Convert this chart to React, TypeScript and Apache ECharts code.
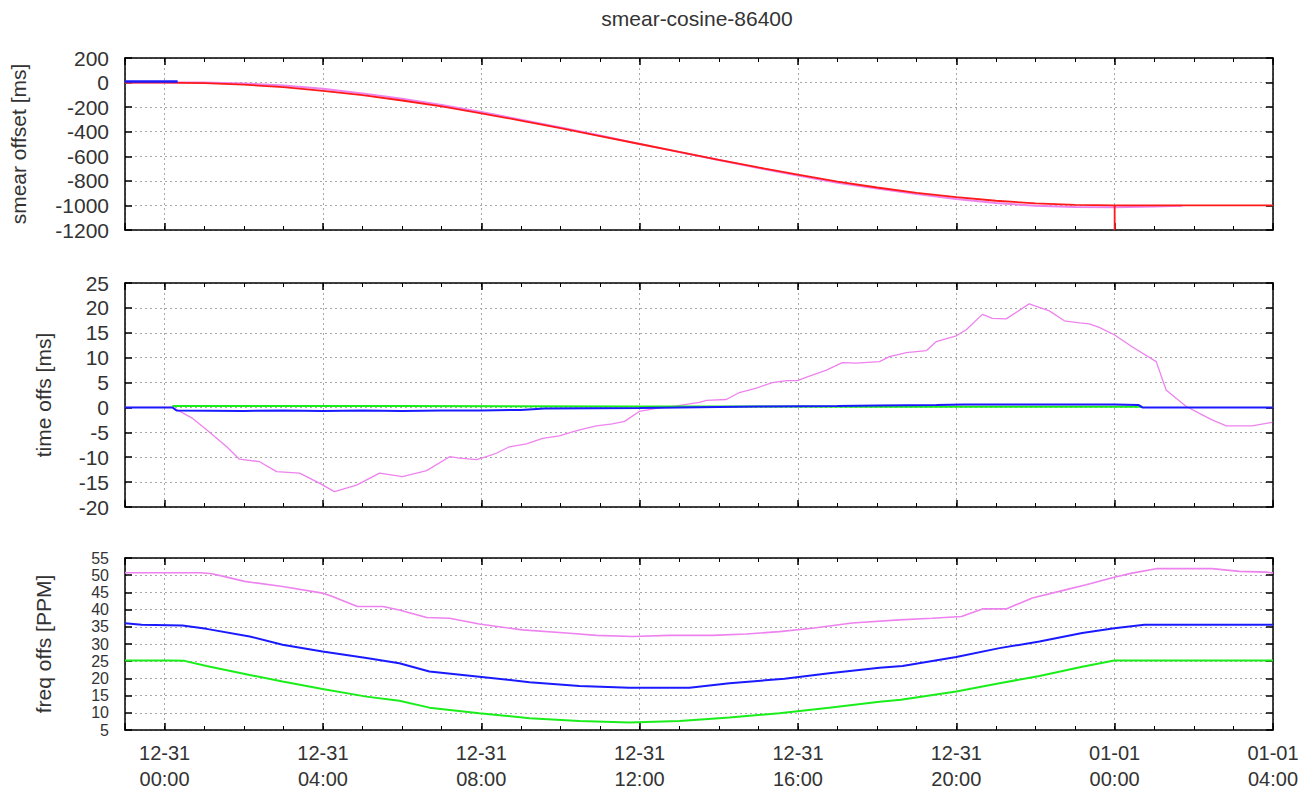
import React, { useEffect, useRef } from 'react';
import * as echarts from 'echarts';

const TITLE = 'smear-cosine-86400';
const PANEL_NAMES = ['smear offset [ms]', 'time offs [ms]', 'freq offs [PPM]'];
const Y_MIN = [-1200, -20, 5];
const Y_MAX = [200, 25, 55];
const Y_STEP = [200, 5, 5];
const X_MIN_HOUR = -1;
const X_MAX_HOUR = 28;
const X_LABEL_HOURS = [0, 4, 8, 12, 16, 20, 24, 28];
const X_LABEL_TEXTS = [
  '12-31\n00:00', '12-31\n04:00', '12-31\n08:00', '12-31\n12:00',
  '12-31\n16:00', '12-31\n20:00', '01-01\n00:00', '01-01\n04:00',
];

// panel 1: smear offset [ms]  (x = hours since 12-31 00:00)
const smearRed: number[][] = [
  [-1, 0], [0, 0], [1, -4], [2, -17], [3, -37], [4, -67], [5, -103], [6, -146], [7, -194],
  [8, -250], [9, -309], [10, -371], [11, -435], [12, -500], [13, -565], [14, -629], [15, -691],
  [16, -750], [17, -806], [18, -854], [19, -897], [20, -933], [21, -962], [22, -983], [23, -996],
  [24, -1000], [24, -1200], [24, -1000], [28, -1000],
];
const smearViolet: number[][] = [
  [-1, 0], [0, 0], [1, 0], [2, -7], [3, -24], [4, -51], [5, -88], [6, -132], [7, -182],
  [8, -240], [9, -302], [10, -365], [11, -431], [12, -499], [13, -566], [14, -631], [15, -695],
  [16, -756], [17, -815], [18, -863], [19, -908], [20, -947], [21, -980], [22, -1003], [23, -1013],
  [24, -1015], [25, -1009], [25.7, -1002],
];
const smearBlue: number[][] = [[-1, 8], [0.33, 8]];

// panel 2: time offs [ms]
const timeViolet: number[][] = [
  [-1, 0], [0, 0], [0.2, 0], [0.71, -2.2], [1.06, -4.5], [1.57, -7.9], [1.89, -10.4], [2.4, -10.9],
  [2.83, -12.9], [3.41, -13.2], [3.91, -15.2], [4.29, -16.9], [4.85, -15.6], [5.43, -13.2],
  [6.01, -13.9], [6.62, -12.7], [7.2, -9.9], [7.45, -10.2], [7.88, -10.5], [8.13, -9.9],
  [8.38, -9.2], [8.71, -7.9], [9.14, -7.3], [9.55, -6.2], [9.97, -5.7], [10.48, -4.5],
  [10.91, -3.7], [11.31, -3.3], [11.62, -2.8], [11.99, -0.8], [12.42, -0.2], [12.93, 0.3],
  [13.51, 1.0], [13.69, 1.4], [14.19, 1.6], [14.52, 3.0], [14.95, 3.9], [15.35, 5.0],
  [15.71, 5.4], [15.98, 5.4], [16.36, 6.5], [16.72, 7.5], [17.12, 9.0], [17.47, 8.9],
  [18.06, 9.2], [18.31, 10.2], [18.74, 11.0], [19.24, 11.4], [19.49, 13.2], [20.0, 14.4],
  [20.25, 15.6], [20.66, 18.7], [20.91, 17.9], [21.26, 17.8], [21.84, 20.8], [22.35, 19.4],
  [22.73, 17.4], [23.11, 17.0], [23.36, 16.8], [23.61, 16.1], [23.99, 14.6], [24.44, 12.2],
  [25.05, 9.2], [25.3, 3.5], [25.56, 1.8], [25.81, 0.2], [26.14, -1.2], [26.46, -2.5],
  [26.82, -3.7], [27.47, -3.7], [27.98, -3.0],
];
const timeGreen: number[][] = [
  [0.2, 0.3], [6, 0.3], [12, 0.2], [18, 0.15], [24.7, 0.15],
];
const timeBlue: number[][] = [
  [-1, 0], [0.2, 0], [0.3, -0.6], [2, -0.7], [3, -0.6], [4, -0.7], [5, -0.6], [6, -0.7],
  [7, -0.6], [8, -0.6], [9, -0.5], [9.6, -0.2], [12, -0.1], [13, 0], [14, 0.1], [15, 0.2],
  [17, 0.3], [18, 0.4], [19.5, 0.5], [20.2, 0.6], [22, 0.6], [24, 0.6], [24.6, 0.5],
  [24.7, 0], [28, 0],
];

// panel 3: freq offs [PPM]
const freqViolet: number[][] = [
  [-1, 50.7], [0.93, 50.7], [1.19, 50.4], [1.44, 49.8], [2.02, 48.2], [2.98, 46.7], [3.99, 44.8],
  [4.24, 43.8], [4.87, 40.9], [5.51, 40.9], [5.93, 39.9], [6.62, 37.7], [7.2, 37.5],
  [7.95, 35.8], [9.04, 34.1], [10.15, 33.2], [10.91, 32.5], [11.82, 32.2], [12.75, 32.5],
  [13.84, 32.5], [14.7, 32.9], [15.53, 33.6], [16.36, 34.6], [17.37, 36.1], [18.56, 37.0],
  [19.39, 37.5], [20.13, 38.0], [20.66, 40.2], [21.26, 40.2], [21.92, 43.4], [22.6, 45.3],
  [23.28, 47.2], [23.99, 49.4], [24.44, 50.6], [25.05, 51.9], [26.46, 51.9], [27.15, 51.1],
  [27.83, 50.9], [28, 50.6],
];
const freqBlue: number[][] = [
  [-1, 36.0], [-0.58, 35.6], [0.45, 35.4], [1.06, 34.4], [2.15, 32.2], [2.98, 29.8],
  [3.99, 27.8], [5.1, 25.9], [5.93, 24.4], [6.69, 22.0], [7.95, 20.5], [9.22, 18.9],
  [10.48, 17.8], [11.74, 17.3], [13.26, 17.3], [14.27, 18.6], [15.66, 19.9], [16.79, 21.5],
  [18.06, 23.1], [18.64, 23.6], [20.0, 26.2], [21.09, 28.8], [22.1, 30.7], [23.18, 33.2],
  [23.99, 34.6], [24.75, 35.6], [28, 35.6],
];
const freqGreen: number[][] = [
  [-1, 25.2], [0.13, 25.2], [0.5, 25.1], [1.06, 23.6], [2.15, 21.0], [2.98, 19.1], [3.99, 16.9],
  [5.1, 14.7], [5.93, 13.5], [6.69, 11.5], [7.95, 9.9], [9.22, 8.4], [10.48, 7.6], [11.74, 7.2],
  [13.01, 7.6], [14.27, 8.6], [15.53, 9.9], [16.79, 11.5], [18.06, 13.2], [18.6, 13.8],
  [20.0, 16.2], [21.09, 18.6], [22.1, 20.7], [23.18, 23.4], [23.99, 25.2], [28, 25.2],
];

const FONT = '"Liberation Sans", Arial, sans-serif';
const TEXT_COLOR = '#333333';
const RED = '#ff1a1a';
const BLUE = '#1a1aff';
const GREEN = '#1aee1a';
const VIOLET = '#ee82ee';

const GRID_TOPS = [58, 283, 558];
const GRID_HEIGHTS = [172, 224, 172];
const NAME_GAPS = [96, 71, 71];
const Y_LABEL_SIZES = [21, 21, 16];

function xLabel(v: number): string {
  const h = Math.round(-v);
  const i = X_LABEL_HOURS.indexOf(h);
  return i >= 0 ? X_LABEL_TEXTS[i] : '';
}

function buildOption() {
  const grids: any[] = [];
  const xAxes: any[] = [];
  const yAxes: any[] = [];
  const border = { show: true, onZero: false, lineStyle: { color: '#000', width: 1.5 } };
  const dotted = { show: true, lineStyle: { color: '#a8a8a8', width: 1, type: [2, 3] } };
  for (let g = 0; g < 3; g++) {
    grids.push({ left: 125, right: 43, top: GRID_TOPS[g], height: GRID_HEIGHTS[g] });
    for (const pos of ['bottom', 'top']) {
      xAxes.push({
        type: 'value', gridIndex: g, position: pos, min: X_MIN_HOUR, max: X_MAX_HOUR, interval: 1,
        axisLine: border,
        axisTick: { show: true, inside: true, length: 4, lineStyle: { color: '#000', width: 1 } },
        axisLabel: { show: false }, splitLine: { show: false },
      });
      xAxes.push({
        type: 'value', gridIndex: g, position: pos, inverse: true,
        min: -X_MAX_HOUR, max: -X_MIN_HOUR, interval: 4,
        axisLine: { show: false, onZero: false },
        axisTick: { show: true, inside: true, length: 7, lineStyle: { color: '#000', width: 1.5 } },
        axisLabel: {
          show: g === 2 && pos === 'bottom', formatter: xLabel, margin: 10,
          showMinLabel: true, showMaxLabel: true,
          fontSize: 20, lineHeight: 26, fontFamily: FONT, color: TEXT_COLOR,
        },
        splitLine: pos === 'bottom' ? dotted : { show: false },
      });
    }
    yAxes.push({
      type: 'value', gridIndex: g, position: 'left', min: Y_MIN[g], max: Y_MAX[g], interval: Y_STEP[g],
      axisLine: border,
      axisTick: { show: true, inside: true, length: 7, lineStyle: { color: '#000', width: 1.5 } },
      axisLabel: {
        show: true, margin: 16, fontSize: Y_LABEL_SIZES[g], lineHeight: Y_LABEL_SIZES[g],
        fontFamily: FONT, color: TEXT_COLOR,
        showMinLabel: true, showMaxLabel: true, hideOverlap: false,
        formatter: (v: number) => String(v),
      },
      splitLine: dotted,
      name: PANEL_NAMES[g], nameLocation: 'middle', nameGap: NAME_GAPS[g], nameRotate: 90,
      nameTextStyle: { fontSize: 21, fontFamily: FONT, color: TEXT_COLOR },
    });
    yAxes.push({
      type: 'value', gridIndex: g, position: 'right', min: Y_MIN[g], max: Y_MAX[g], interval: Y_STEP[g],
      axisLine: border,
      axisTick: { show: true, inside: true, length: 7, lineStyle: { color: '#000', width: 1.5 } },
      axisLabel: { show: false }, splitLine: { show: false },
    });
  }

  const line = (g: number, data: number[][], color: string, width: number) => ({
    type: 'line', xAxisIndex: g * 4, yAxisIndex: g * 2, data, showSymbol: false, symbol: 'none',
    lineStyle: { color, width }, itemStyle: { color }, silent: true, clip: true,
  });

  const series = [
    line(0, smearViolet, VIOLET, 2),
    line(0, smearRed, RED, 1.8),
    line(0, smearBlue, BLUE, 2.5),
    line(1, timeViolet, VIOLET, 1.3),
    line(1, timeGreen, GREEN, 2),
    line(1, timeBlue, BLUE, 2),
    line(2, freqViolet, VIOLET, 1.6),
    line(2, freqBlue, BLUE, 2),
    line(2, freqGreen, GREEN, 2),
  ];

  return {
    animation: false,
    backgroundColor: '#ffffff',
    graphic: [{
      type: 'text', x: 697, y: 18,
      style: {
        text: TITLE, fontSize: 21, fontFamily: FONT, fill: TEXT_COLOR,
        align: 'center', verticalAlign: 'middle', textAlign: 'center', textVerticalAlign: 'middle',
      },
    }],
    grid: grids,
    xAxis: xAxes,
    yAxis: yAxes,
    series,
  };
}

export default function App() {
  const ref = useRef<HTMLDivElement>(null);
  useEffect(() => {
    if (!ref.current) return;
    const chart = echarts.init(ref.current, undefined, { renderer: 'svg' });
    chart.setOption(buildOption() as any);
    return () => chart.dispose();
  }, []);
  return (
    <div
      ref={ref}
      style={{ position: 'absolute', left: 0, top: 0, width: 1316, height: 792, background: '#fff' }}
    />
  );
}
